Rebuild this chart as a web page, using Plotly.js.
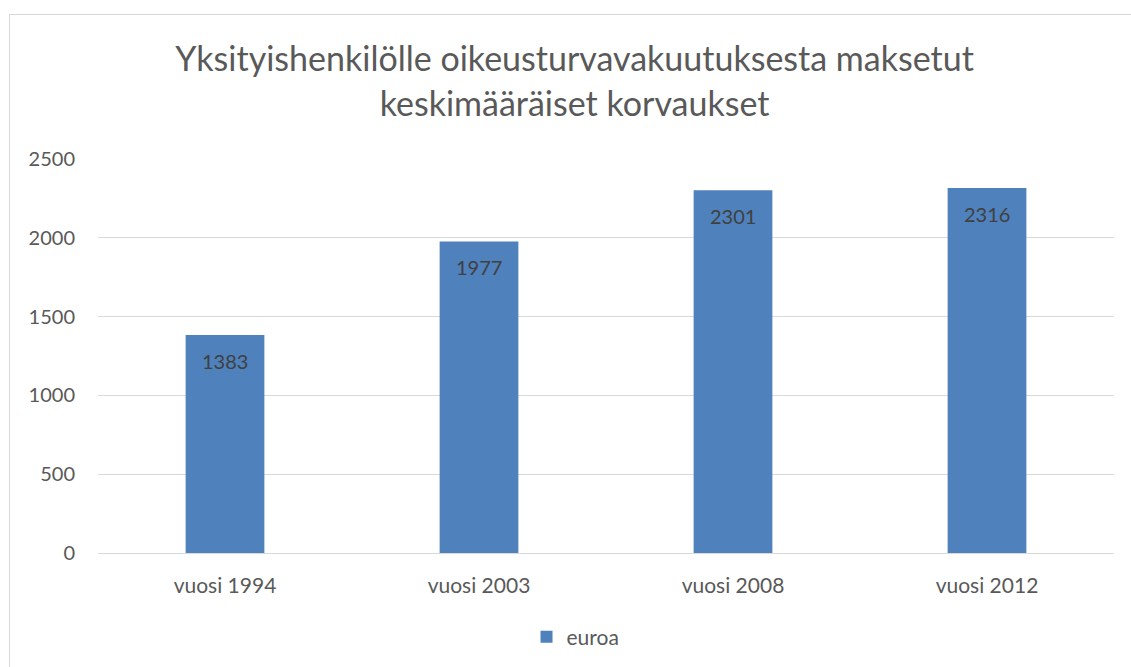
<!DOCTYPE html>
<html>
<head>
<meta charset="utf-8">
<script src="https://cdn.plot.ly/plotly-3.0.1.min.js"></script>
<style>
html,body{margin:0;padding:0;background:#fff;}
#frame{position:absolute;left:9px;top:14px;width:1140px;height:680px;border:1.5px solid #d9d9d9;box-sizing:border-box;pointer-events:none;z-index:5;}
#chart{width:1131px;height:667px;}
</style>
</head>
<body>
<div id="frame"></div>
<div id="chart"></div>
<script>
const categories = ["vuosi 1994", "vuosi 2003", "vuosi 2008", "vuosi 2012"];
const values = [1383, 1977, 2301, 2316];
const seriesName = "euroa";
const yTicks = [0, 500, 1000, 1500, 2000, 2500];

const font = "Lato, 'Open Sans', 'Noto Sans', sans-serif";

const trace = {
  type: "bar",
  x: categories,
  y: values,
  name: seriesName,
  marker: {color: "#4F81BD"},
  width: 0.31,
  hoverinfo: "x+y"
};

const annotations = categories.map((c, i) => ({
  x: c, y: values[i], xref: "x", yref: "y",
  text: String(values[i]),
  showarrow: false, yanchor: "top", yshift: -12,
  font: {family: font, size: 20, color: "#404040"}
}));

const layout = {
  width: 1131, height: 667,
  margin: {l: 98, r: 17, t: 159, b: 114},
  paper_bgcolor: "#fff", plot_bgcolor: "#fff",
  font: {family: font, color: "#595959"},
  title: {
    text: "Yksityishenkilölle oikeusturvavakuutuksesta maksetut<br>keskimääräiset korvaukset",
    font: {family: font, size: 34, color: "#595959"},
    x: 0.508, xanchor: "center", y: 0.893, yanchor: "top"
  },
  xaxis: {
    type: "category", automargin: false,
    tickfont: {family: font, size: 21, color: "#595959"},
    showgrid: false, showline: false, ticks: "",
    ticklabelstandoff: 18
  },
  yaxis: {
    range: [0, 2500], automargin: false,
    tickvals: yTicks,
    tickfont: {family: font, size: 20, color: "#595959"},
    showgrid: true, gridcolor: "#d9d9d9", gridwidth: 1.3,
    zeroline: true, zerolinecolor: "#d9d9d9", zerolinewidth: 1.3,
    showline: false, ticks: "",
    ticklabelstandoff: 22
  },
  showlegend: true,
  legend: {
    orientation: "h", x: 0.47, xanchor: "center",
    yref: "container", y: 0.045, yanchor: "middle",
    font: {family: font, size: 21, color: "#595959"},
    itemwidth: 30
  },
  annotations: annotations,
  bargap: 0.69
};

Plotly.newPlot("chart", [trace], layout, {displayModeBar: false, staticPlot: false});
</script>
</body>
</html>
